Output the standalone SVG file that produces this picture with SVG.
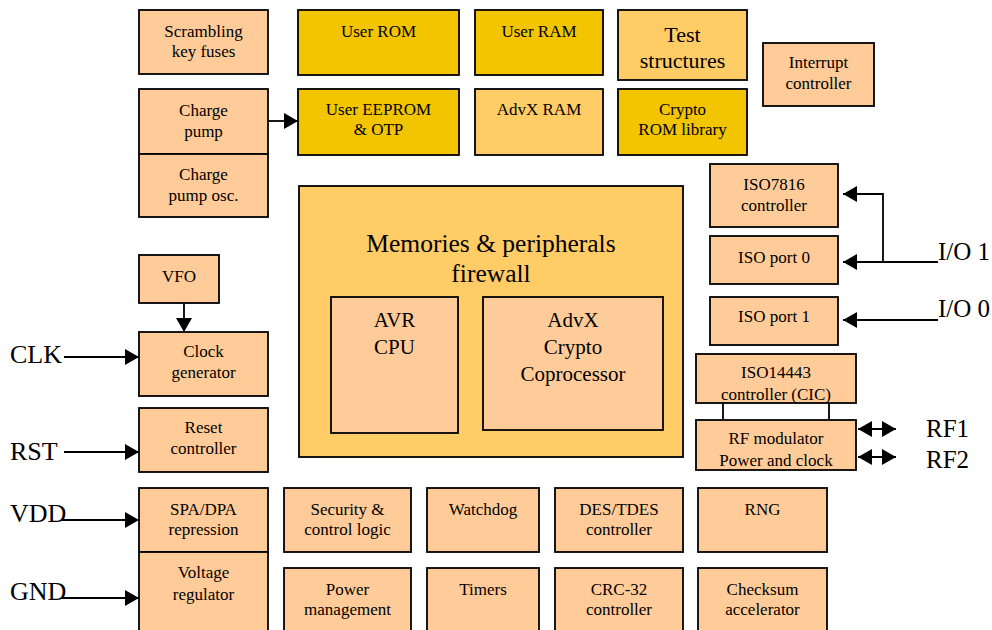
<svg xmlns="http://www.w3.org/2000/svg" width="992" height="630" viewBox="0 0 992 630" font-family="'Liberation Serif','Times New Roman',serif">
<defs>
<marker id="ah" viewBox="0 0 14 16" refX="14" refY="8" markerWidth="14" markerHeight="16" markerUnits="userSpaceOnUse" orient="auto-start-reverse"><path d="M0,0 L14,8 L0,16 Z" fill="#000"/></marker>
<style>
.b{fill:#FFCC99;stroke:#000;stroke-width:1.8}
.m{fill:#FFCC66;stroke:#000;stroke-width:1.8}
.g{fill:#F2C500;stroke:#000;stroke-width:1.8}
text{font-family:"Liberation Serif","Times New Roman",serif;fill:#000;text-anchor:middle}
.t{font-size:17px}
.t2{font-size:21px}
.t3{font-size:22px}
.big{font-size:25.5px}
.pin{font-size:26px;text-anchor:start}
.pin2{font-size:25px;text-anchor:start}
.c{fill:none;stroke:#000;stroke-width:1.8}
.a{marker-end:url(#ah)}
.d{marker-start:url(#ah);marker-end:url(#ah)}
</style>
</defs>
<rect width="992" height="630" fill="#fff"/>

<g id="scrambling"><rect class="b" x="139" y="10" width="129" height="64"/><text class="t" x="203.5" y="37">Scrambling</text><text class="t" x="203.5" y="57">key fuses</text></g>
<g id="chargepump"><rect class="b" x="139" y="89" width="129" height="65"/><text class="t" x="203.5" y="116">Charge</text><text class="t" x="203.5" y="137">pump</text></g>
<g id="chargepumposc"><rect class="b" x="139" y="154" width="129" height="63"/><text class="t" x="203.5" y="180">Charge</text><text class="t" x="203.5" y="201">pump osc.</text></g>

<g id="userrom"><rect class="g" x="298" y="10" width="161" height="65"/><text class="t" x="378.5" y="37">User ROM</text></g>
<g id="userram"><rect class="g" x="475" y="10" width="128" height="65"/><text class="t" x="539" y="37">User RAM</text></g>
<g id="test"><rect class="m" x="618" y="10" width="129" height="70"/><text class="t3" x="682.5" y="42">Test</text><text class="t3" x="682.5" y="68">structures</text></g>
<g id="eeprom"><rect class="g" x="298" y="89" width="161" height="66"/><text class="t" x="378.5" y="115">User EEPROM</text><text class="t" x="378.5" y="135">&amp; OTP</text></g>
<g id="advxram"><rect class="m" x="475" y="89" width="128" height="66"/><text class="t" x="539" y="115">AdvX RAM</text></g>
<g id="cryptorom"><rect class="g" x="618" y="89" width="129" height="66"/><text class="t" x="682.5" y="115">Crypto</text><text class="t" x="682.5" y="135">ROM library</text></g>
<g id="interrupt"><rect class="b" x="763" y="43" width="111" height="63"/><text class="t" x="818.5" y="68">Interrupt</text><text class="t" x="818.5" y="89">controller</text></g>

<g id="firewall"><rect class="m" x="299" y="186" width="384" height="271"/><text class="big" x="491" y="252">Memories &amp; peripherals</text><text class="big" x="491" y="282">firewall</text></g>
<g id="avr"><rect class="b" x="331" y="297" width="127" height="136"/><text class="t2" x="394.5" y="327">AVR</text><text class="t2" x="394.5" y="354">CPU</text></g>
<g id="advx"><rect class="b" x="483" y="297" width="180" height="133"/><text class="t2" x="573" y="327">AdvX</text><text class="t2" x="573" y="354">Crypto</text><text class="t2" x="573" y="381">Coprocessor</text></g>

<g id="iso7816"><rect class="b" x="710" y="164" width="128" height="63"/><text class="t" x="774" y="190">ISO7816</text><text class="t" x="774" y="211">controller</text></g>
<g id="isoport0"><rect class="b" x="710" y="236" width="128" height="48"/><text class="t" x="774" y="263">ISO port 0</text></g>
<g id="isoport1"><rect class="b" x="710" y="297" width="128" height="48"/><text class="t" x="774" y="322">ISO port 1</text></g>
<g id="iso14443"><rect class="b" x="696" y="354" width="160" height="49"/><text class="t" x="776" y="378">ISO14443</text><text class="t" x="776" y="400">controller (CIC)</text></g>
<g id="rfmod"><rect class="b" x="696" y="420" width="160" height="50"/><text class="t" x="776" y="444">RF modulator</text><text class="t" x="776" y="466">Power and clock</text></g>

<g id="vfo"><rect class="b" x="139" y="255" width="80" height="48"/><text class="t" x="179" y="282">VFO</text></g>
<g id="clockgen"><rect class="b" x="139" y="332" width="129" height="64"/><text class="t" x="203.5" y="357">Clock</text><text class="t" x="203.5" y="378">generator</text></g>
<g id="reset"><rect class="b" x="139" y="408" width="129" height="64"/><text class="t" x="203.5" y="433">Reset</text><text class="t" x="203.5" y="454">controller</text></g>
<g id="spadpa"><rect class="b" x="139" y="488" width="129" height="64"/><text class="t" x="203.5" y="515">SPA/DPA</text><text class="t" x="203.5" y="535">repression</text></g>
<g id="voltreg"><rect class="b" x="139" y="552" width="129" height="90"/><text class="t" x="203.5" y="578">Voltage</text><text class="t" x="203.5" y="600">regulator</text></g>

<g id="security"><rect class="b" x="284" y="488" width="127" height="64"/><text class="t" x="347.5" y="515">Security &amp;</text><text class="t" x="347.5" y="535">control logic</text></g>
<g id="watchdog"><rect class="b" x="427" y="488" width="112" height="64"/><text class="t" x="483" y="515">Watchdog</text></g>
<g id="des"><rect class="b" x="555" y="488" width="128" height="64"/><text class="t" x="619" y="515">DES/TDES</text><text class="t" x="619" y="535">controller</text></g>
<g id="rng"><rect class="b" x="698" y="488" width="129" height="64"/><text class="t" x="762.5" y="515">RNG</text></g>
<g id="powermgmt"><rect class="b" x="284" y="568" width="127" height="74"/><text class="t" x="347.5" y="595">Power</text><text class="t" x="347.5" y="615">management</text></g>
<g id="timers"><rect class="b" x="427" y="568" width="112" height="74"/><text class="t" x="483" y="595">Timers</text></g>
<g id="crc"><rect class="b" x="555" y="568" width="128" height="74"/><text class="t" x="619" y="595">CRC-32</text><text class="t" x="619" y="615">controller</text></g>
<g id="checksum"><rect class="b" x="698" y="568" width="129" height="74"/><text class="t" x="762.5" y="595">Checksum</text><text class="t" x="762.5" y="615">accelerator</text></g>

<g id="labels">
<text class="pin" x="10" y="363">CLK</text>
<text class="pin" x="10" y="460">RST</text>
<text class="pin" x="10" y="522">VDD</text>
<text class="pin" x="10" y="600">GND</text>
<text class="pin2" x="938" y="260">I/O 1</text>
<text class="pin2" x="938" y="317">I/O 0</text>
<text class="pin2" x="926" y="437">RF1</text>
<text class="pin2" x="926" y="468">RF2</text>
</g>

<g id="connectors">
<line class="c a" x1="268" y1="121" x2="298" y2="121"/>
<line class="c a" x1="184" y1="303" x2="184" y2="332"/>
<line class="c a" x1="64" y1="357" x2="139" y2="357"/>
<line class="c a" x1="64" y1="452" x2="139" y2="452"/>
<line class="c a" x1="62" y1="520" x2="139" y2="520"/>
<line class="c a" x1="62" y1="598" x2="139" y2="598"/>
<line class="c a" x1="938" y1="262" x2="843" y2="262"/>
<polyline class="c a" points="883,262 883,194 843,194"/>
<line class="c a" x1="938" y1="320" x2="843" y2="320"/>
<line class="c" x1="723" y1="403" x2="723" y2="420"/>
<line class="c" x1="829" y1="403" x2="829" y2="420"/>
<line class="c d" x1="858" y1="429" x2="896" y2="429"/>
<line class="c d" x1="858" y1="457" x2="896" y2="457"/>
</g>
</svg>
